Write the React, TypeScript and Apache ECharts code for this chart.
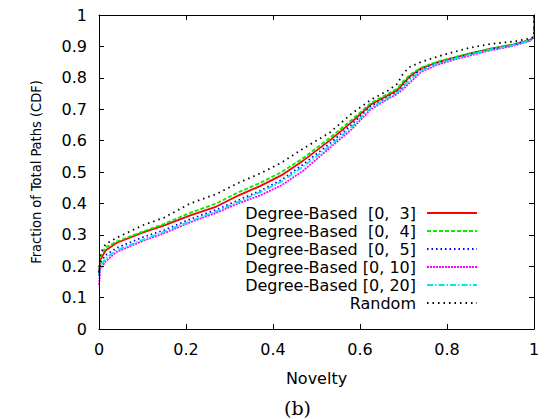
import React, { useEffect, useRef } from "react";
import * as echarts from "echarts";

// Novelty (x) sample positions shared by all curves
const novelty = [0, 0.003, 0.015, 0.04, 0.1, 0.15, 0.21, 0.27, 0.32, 0.37, 0.42, 0.47, 0.53, 0.58, 0.625, 0.665, 0.685, 0.7, 0.715, 0.74, 0.775, 0.81, 0.85, 0.9, 0.95, 0.99, 1.0, 1.0];

const deg03 = [0.18, 0.22, 0.25, 0.274, 0.307, 0.33, 0.362, 0.39, 0.425, 0.455, 0.49, 0.537, 0.6, 0.658, 0.715, 0.745, 0.76, 0.783, 0.805, 0.83, 0.848, 0.862, 0.876, 0.892, 0.905, 0.92, 0.93, 1];
const deg04 = [0.17, 0.23, 0.26, 0.278, 0.31, 0.335, 0.37, 0.4, 0.435, 0.465, 0.5, 0.545, 0.608, 0.665, 0.72, 0.75, 0.765, 0.79, 0.81, 0.832, 0.85, 0.863, 0.877, 0.893, 0.906, 0.92, 0.93, 1];
const deg05 = [0.17, 0.21, 0.235, 0.258, 0.292, 0.315, 0.35, 0.38, 0.41, 0.44, 0.475, 0.525, 0.59, 0.65, 0.71, 0.74, 0.755, 0.775, 0.8, 0.826, 0.846, 0.86, 0.875, 0.891, 0.904, 0.919, 0.93, 1];
const deg10 = [0.14, 0.19, 0.215, 0.245, 0.28, 0.305, 0.34, 0.37, 0.4, 0.425, 0.458, 0.505, 0.576, 0.635, 0.7, 0.733, 0.748, 0.765, 0.785, 0.818, 0.84, 0.855, 0.87, 0.887, 0.901, 0.917, 0.93, 1];
const deg20 = [0.17, 0.2, 0.225, 0.25, 0.284, 0.31, 0.343, 0.375, 0.405, 0.435, 0.47, 0.518, 0.582, 0.643, 0.705, 0.737, 0.752, 0.772, 0.795, 0.822, 0.844, 0.858, 0.873, 0.89, 0.903, 0.918, 0.93, 1];
const randomCdf = [0.18, 0.24, 0.27, 0.29, 0.33, 0.355, 0.4, 0.43, 0.465, 0.495, 0.53, 0.575, 0.625, 0.685, 0.73, 0.76, 0.78, 0.815, 0.835, 0.85, 0.866, 0.88, 0.895, 0.908, 0.915, 0.925, 0.93, 1];

const seriesNames = [
  "Degree-Based  [0,  3]",
  "Degree-Based  [0,  4]",
  "Degree-Based  [0,  5]",
  "Degree-Based [0, 10]",
  "Degree-Based [0, 20]",
  "Random",
];
const seriesValues = [deg03, deg04, deg05, deg10, deg20, randomCdf];
const seriesColors = ["#ff0000", "#00ee00", "#0000ff", "#ff00ff", "#00e8e8", "#000000"];
const seriesDash: any[] = ["solid", [4, 2], [1.5, 3], [2, 1], [6, 2, 1.5, 2], [1.5, 4]];

const xTicks = { min: 0, max: 1, interval: 0.2 };
const yTicks = { min: 0, max: 1, interval: 0.1 };

const FONT = "DejaVu Sans";

export default function App() {
  const ref = useRef<HTMLDivElement>(null);
  useEffect(() => {
    if (!ref.current) return;
    const chart = echarts.init(ref.current, null, { renderer: "svg" });
    const axisCommon = {
      type: "value" as const,
      z: 5,
      axisLine: { show: true, onZero: false, lineStyle: { color: "#000", width: 1 } },
      axisTick: { show: true, inside: true, length: 5, lineStyle: { color: "#000", width: 1 } },
      splitLine: { show: false },
    };
    const legends = seriesNames.map((name, i) => ({
      data: [name],
      right: 76,
      top: 205 + i * 18,
      orient: "horizontal",
      align: "right",
      itemWidth: 50,
      itemHeight: 14,
      padding: 0,
      selectedMode: false,
      itemStyle: { opacity: 0 },
      textStyle: { fontFamily: FONT, fontSize: 16, color: "#000", padding: [0, 6, 0, 0] },
    }));
    chart.setOption({
      animation: false,
      backgroundColor: "#fff",
      grid: { left: 99, right: 20, top: 15, bottom: 90, containLabel: false },
      legend: legends,
      xAxis: [
        {
          ...axisCommon,
          position: "bottom",
          ...xTicks,
          name: "Novelty",
          nameLocation: "middle",
          nameGap: 41,
          nameTextStyle: { fontFamily: FONT, fontSize: 16, color: "#000" },
          axisLabel: { fontFamily: FONT, fontSize: 16, color: "#000", margin: 12 },
        },
        {
          ...axisCommon,
          position: "top",
          ...xTicks,
          axisLabel: { show: false },
        },
      ],
      yAxis: [
        {
          ...axisCommon,
          position: "left",
          ...yTicks,
          name: "Fraction of Total Paths (CDF)",
          nameLocation: "middle",
          nameGap: 56,
          nameTextStyle: { fontFamily: '"DejaVu Sans Condensed", "Liberation Sans", sans-serif', fontSize: 14.5, color: "#000" },
          axisLabel: { fontFamily: FONT, fontSize: 16, color: "#000", margin: 12 },
        },
        {
          ...axisCommon,
          position: "right",
          ...yTicks,
          axisLabel: { show: false },
        },
      ],
      graphic: [
        {
          type: "text",
          left: 284,
          top: 398,
          style: { text: "(b)", font: '19px "DejaVu Serif"', fill: "#000" },
        },
      ],
      series: seriesNames.map((name, i) => ({
        name,
        type: "line",
        xAxisIndex: 0,
        yAxisIndex: 0,
        symbol: "none",
        showSymbol: false,
        color: seriesColors[i],
        lineStyle: { color: seriesColors[i], width: 1.8, type: seriesDash[i] },
        data: novelty.map((x, j) => [x, seriesValues[i][j]]),
      })),
    });
    return () => chart.dispose();
  }, []);
  return (
    <div
      ref={ref}
      style={{ position: "absolute", left: 0, top: 0, width: 554, height: 419 }}
    />
  );
}
